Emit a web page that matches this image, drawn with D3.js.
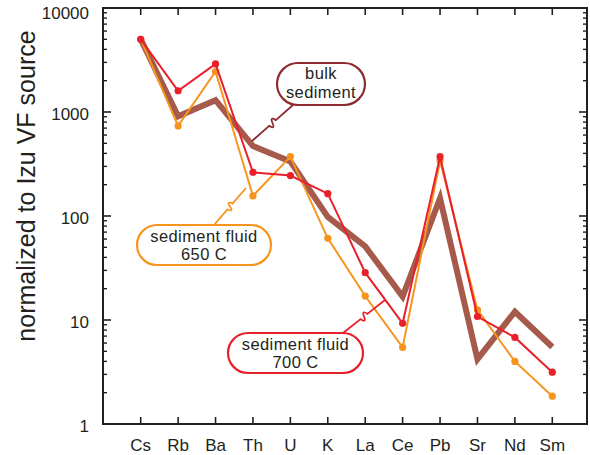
<!DOCTYPE html>
<html>
<head>
<meta charset="utf-8">
<script src="https://cdn.jsdelivr.net/npm/d3@7"></script>
<style>
  html, body { margin: 0; padding: 0; background: #fff; }
  svg { display: block; }
  text { font-family: "Liberation Sans", Arial, Helvetica, sans-serif; fill: #231f20; }
</style>
</head>
<body>
<svg id="chart" width="590" height="455"></svg>
<script>
// Trace elements, normalized to the Izu volcanic-front source
const elements = ["Cs", "Rb", "Ba", "Th", "U", "K", "La", "Ce", "Pb", "Sr", "Nd", "Sm"];
const bulkSediment = [5000, 910, 1300, 470, 335, 98, 51, 16.8, 148, 4.2, 12.0, 5.5];
const fluid650 = [5000, 735, 2450, 156, 372, 61, 17, 5.45, 340, 12.5, 4.0, 1.85];
const fluid700 = [5000, 1600, 2900, 263, 245, 164, 28.5, 9.3, 372, 10.8, 6.8, 3.15];
const yTickValues = [1, 10, 100, 1000, 10000];

const svg = d3.select("#chart");
const frame = { left: 103, right: 587, top: 8, bottom: 424 };

const x = d3.scalePoint().domain(elements).range([140.7, 552.3]);
const y = d3.scaleLog().domain([1, 10000]).range([frame.bottom, frame.top]);

const line = d3.line().x((d, i) => x(elements[i])).y(d => y(d));

// minor ticks for every decade
const minorTicks = [];
for (let e = 0; e < 4; e++) {
  for (let m = 2; m <= 9; m++) minorTicks.push(m * Math.pow(10, e));
}

const axisG = svg.append("g");

// left axis ticks (inward)
axisG.selectAll(".lmaj").data(yTickValues).join("line")
  .attr("x1", frame.left).attr("x2", frame.left + 8)
  .attr("y1", d => y(d)).attr("y2", d => y(d))
  .attr("stroke", "#231f20").attr("stroke-width", 1.6);
axisG.selectAll(".lmin").data(minorTicks).join("line")
  .attr("x1", frame.left).attr("x2", frame.left + 4)
  .attr("y1", d => y(d)).attr("y2", d => y(d))
  .attr("stroke", "#231f20").attr("stroke-width", 1.4);
// right axis ticks (inward)
axisG.selectAll(".rmaj").data(yTickValues).join("line")
  .attr("x1", frame.right).attr("x2", frame.right - 8)
  .attr("y1", d => y(d)).attr("y2", d => y(d))
  .attr("stroke", "#231f20").attr("stroke-width", 1.6);
axisG.selectAll(".rmin").data(minorTicks).join("line")
  .attr("x1", frame.right).attr("x2", frame.right - 4)
  .attr("y1", d => y(d)).attr("y2", d => y(d))
  .attr("stroke", "#231f20").attr("stroke-width", 1.4);
// category ticks on bottom and top
axisG.selectAll(".bt").data(elements).join("line")
  .attr("x1", d => x(d)).attr("x2", d => x(d))
  .attr("y1", frame.bottom).attr("y2", frame.bottom - 7)
  .attr("stroke", "#231f20").attr("stroke-width", 1.6);
axisG.selectAll(".tt").data(elements).join("line")
  .attr("x1", d => x(d)).attr("x2", d => x(d))
  .attr("y1", frame.top).attr("y2", frame.top + 7)
  .attr("stroke", "#231f20").attr("stroke-width", 1.6);

// frame
axisG.append("rect")
  .attr("x", frame.left).attr("y", frame.top)
  .attr("width", frame.right - frame.left).attr("height", frame.bottom - frame.top)
  .attr("fill", "none").attr("stroke", "#231f20").attr("stroke-width", 2);

// y tick labels
axisG.selectAll(".ylab").data(yTickValues).join("text")
  .attr("x", 89).attr("y", d => y(d) + (d === 10000 ? 11 : 8))
  .attr("text-anchor", "end").attr("font-size", 17)
  .text(d => d3.format("d")(d));

// x tick labels
axisG.selectAll(".xlab").data(elements).join("text")
  .attr("x", d => x(d)).attr("y", 451)
  .attr("text-anchor", "middle").attr("font-size", 17)
  .text(d => d);

// y axis title
svg.append("text")
  .attr("transform", "translate(35,186) rotate(-90)")
  .attr("text-anchor", "middle").attr("font-size", 25)
  .text("normalized to Izu VF source");

// data series
const BROWN = "#a65a4b", ORANGE = "#f7941d", RED = "#e8202a";

svg.append("path").datum(bulkSediment)
  .attr("d", line).attr("fill", "none")
  .attr("stroke", BROWN).attr("stroke-width", 6).attr("stroke-linejoin", "miter");

function drawSeries(values, color) {
  svg.append("path").datum(values)
    .attr("d", line).attr("fill", "none")
    .attr("stroke", color).attr("stroke-width", 2);
  svg.append("g").selectAll("circle").data(values).join("circle")
    .attr("cx", (d, i) => x(elements[i])).attr("cy", d => y(d))
    .attr("r", 3.6).attr("fill", color);
}
drawSeries(fluid650, ORANGE);
drawSeries(fluid700, RED);

// callouts: pill-shaped labels with a wiggly leader line
function leader(x0, y0, x1, y1, color) {
  const dx = x1 - x0, dy = y1 - y0, L = Math.hypot(dx, dy);
  const ux = dx / L, uy = dy / L, nx = -uy, ny = ux;
  const p = t => [x0 + dx * t, y0 + dy * t];
  const a = p(0.42), m = p(0.5), b = p(0.58);
  const amp = 7;
  const c1 = [(a[0] + m[0]) / 2 + nx * amp, (a[1] + m[1]) / 2 + ny * amp];
  const c2 = [(m[0] + b[0]) / 2 - nx * amp, (m[1] + b[1]) / 2 - ny * amp];
  const d = `M${x0},${y0}L${a}Q${c1} ${m}Q${c2} ${b}L${x1},${y1}`;
  svg.append("path").attr("d", d).attr("fill", "none")
    .attr("stroke", color).attr("stroke-width", 1.8);
}

function callout(bx, by, bw, bh, lines, color, firstBaseline) {
  svg.append("rect")
    .attr("x", bx).attr("y", by).attr("width", bw).attr("height", bh)
    .attr("rx", bh / 2).attr("ry", bh / 2)
    .attr("fill", "#fff").attr("stroke", color).attr("stroke-width", 2.2);
  const cx = bx + bw / 2;
  lines.forEach((s, i) => {
    svg.append("text")
      .attr("x", cx).attr("y", by + firstBaseline + i * 18.6)
      .attr("text-anchor", "middle").attr("font-size", 16.5)
      .attr("letter-spacing", 0.4)
      .text(s);
  });
}

leader(293, 105, 252, 141, "#8e2b31");
callout(277, 63, 88, 42, ["bulk", "sediment"], "#8e2b31", 16);

leader(214, 225, 246, 188, ORANGE);
callout(137, 225, 134, 40, ["sediment fluid", "650 C"], ORANGE, 16.5);

leader(343, 333, 385, 300, RED);
callout(228, 333, 135, 40, ["sediment fluid", "700 C"], RED, 16.5);
</script>
</body>
</html>
